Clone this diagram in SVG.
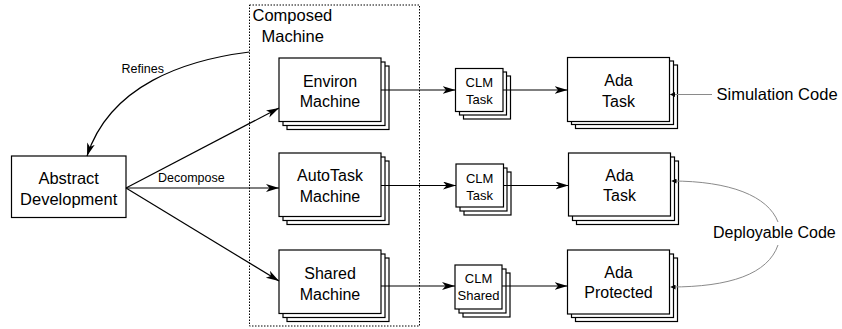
<svg xmlns="http://www.w3.org/2000/svg" width="842" height="329" viewBox="0 0 842 329">
  <style>
    text { font-family: "Liberation Sans", Arial, sans-serif; fill: #000; }
    .box { fill: #fff; stroke: #000; stroke-width: 1.2; }
    .big { font-size: 16px; text-anchor: middle; }
    .small { font-size: 13px; text-anchor: middle; }
    .lbl { font-size: 12.5px; }
    .conn { fill: none; stroke: #000; stroke-width: 1.2; }
    .note { fill: none; stroke: #8a8a8a; stroke-width: 1; }
    .frame { fill: none; stroke: #000; stroke-width: 1; stroke-dasharray: 1.5 1.5; }
  </style>
  <defs>
    <marker id="arr" markerUnits="userSpaceOnUse" markerWidth="14" markerHeight="10" refX="13" refY="4" orient="auto">
      <path d="M0,0 L13,4 L0,8 L3.5,4 z" fill="#000"/>
    </marker>
    <marker id="tiny" markerUnits="userSpaceOnUse" markerWidth="6" markerHeight="5" refX="5" refY="2.5" orient="auto">
      <path d="M0,0 L5,2.5 L0,5 z" fill="#000"/>
    </marker>
  </defs>

  <!-- composed machine frame -->
  <g id="composed">
    <rect class="frame" x="249.5" y="5" width="170" height="321"/>
    <text x="252.5" y="20.5" style="font-size:16.5px">Composed</text>
    <text x="261.5" y="41.5" style="font-size:16.5px">Machine</text>
  </g>

  <g id="abstract">
    <rect class="box" x="11.5" y="156" width="114.5" height="61.5"/>
    <text class="big" x="68.7" y="183.5" style="font-size:16.5px">Abstract</text>
    <text class="big" x="68.7" y="204.5" style="font-size:16.5px">Development</text>
  </g>

  <g id="environ">
    <rect class="box" x="287" y="66" width="102" height="63.5"/>
    <rect class="box" x="283" y="62" width="102" height="63.5"/>
    <rect class="box" x="279" y="58" width="102" height="63.5"/>
    <text class="big" x="330" y="87.3">Environ</text>
    <text class="big" x="330" y="107.3">Machine</text>
  </g>

  <g id="autotask">
    <rect class="box" x="287" y="161" width="102" height="63.5"/>
    <rect class="box" x="283" y="157" width="102" height="63.5"/>
    <rect class="box" x="279" y="153" width="102" height="63.5"/>
    <text class="big" x="330" y="180.7">AutoTask</text>
    <text class="big" x="330" y="201.7">Machine</text>
  </g>

  <g id="shared">
    <rect class="box" x="287" y="258" width="102" height="63.5"/>
    <rect class="box" x="283" y="254" width="102" height="63.5"/>
    <rect class="box" x="279" y="250" width="102" height="63.5"/>
    <text class="big" x="330" y="279.3">Shared</text>
    <text class="big" x="330" y="300">Machine</text>
  </g>

  <g id="clm-task-1">
    <rect class="box" x="463.5" y="76" width="47" height="43"/>
    <rect class="box" x="459.5" y="72" width="47" height="43"/>
    <rect class="box" x="455.5" y="68.5" width="47.5" height="43"/>
    <text class="small" x="479.3" y="87.3">CLM</text>
    <text class="small" x="479.3" y="104">Task</text>
  </g>

  <g id="clm-task-2">
    <rect class="box" x="464" y="172" width="47" height="43"/>
    <rect class="box" x="460" y="168" width="47" height="43"/>
    <rect class="box" x="456" y="164" width="47.5" height="43"/>
    <text class="small" x="479.7" y="183.3">CLM</text>
    <text class="small" x="479.7" y="199.5">Task</text>
  </g>

  <g id="clm-shared">
    <rect class="box" x="463" y="273" width="47" height="44"/>
    <rect class="box" x="459" y="269" width="47" height="44"/>
    <rect class="box" x="455" y="265" width="47" height="44"/>
    <text class="small" x="478.5" y="283.3">CLM</text>
    <text class="small" x="478.5" y="299.5">Shared</text>
  </g>

  <g id="ada-task-1">
    <rect class="box" x="575.5" y="65" width="102" height="63.5"/>
    <rect class="box" x="571.5" y="61" width="102" height="63.5"/>
    <rect class="box" x="567.5" y="57.5" width="102" height="64"/>
    <text class="big" x="618.5" y="86">Ada</text>
    <text class="big" x="618.5" y="106.7">Task</text>
  </g>

  <g id="ada-task-2">
    <rect class="box" x="576.5" y="161" width="102" height="63.5"/>
    <rect class="box" x="572.5" y="157" width="102" height="63.5"/>
    <rect class="box" x="568.5" y="153" width="102" height="63"/>
    <text class="big" x="619.5" y="180.7">Ada</text>
    <text class="big" x="619.5" y="201.3">Task</text>
  </g>

  <g id="ada-protected">
    <rect class="box" x="575.5" y="258" width="102" height="63.5"/>
    <rect class="box" x="571.5" y="254" width="102" height="63.5"/>
    <rect class="box" x="567.5" y="250" width="102" height="64"/>
    <text class="big" x="618.5" y="278.3">Ada</text>
    <text class="big" x="618.5" y="298">Protected</text>
  </g>

  <g id="simulation-code">
    <text x="716.5" y="100" style="font-size:16.5px">Simulation Code</text>
  </g>

  <g id="deployable-code">
    <text x="713" y="237.5" style="font-size:16px">Deployable Code</text>
  </g>

  <g id="connectors">
    <!-- refinement back to the abstract model -->
    <path class="conn" d="M249.5,52 C185,60 110,85 87,156" marker-end="url(#arr)"/>
    <text class="lbl" x="121.5" y="72.5">Refines</text>

    <!-- decomposition fan-out -->
    <line class="conn" x1="126" y1="188" x2="279" y2="108" marker-end="url(#arr)"/>
    <line class="conn" x1="126" y1="188" x2="279" y2="188" marker-end="url(#arr)"/>
    <line class="conn" x1="126" y1="188" x2="279" y2="281" marker-end="url(#arr)"/>
    <text class="lbl" x="158" y="181.5">Decompose</text>

    <!-- machine to CLM to Ada -->
    <line class="conn" x1="381" y1="90" x2="455.5" y2="90" marker-end="url(#arr)"/>
    <line class="conn" x1="503" y1="90" x2="567.5" y2="90" marker-end="url(#arr)"/>
    <line class="conn" x1="381" y1="185.5" x2="456" y2="185.5" marker-end="url(#arr)"/>
    <line class="conn" x1="503.5" y1="185.5" x2="568.5" y2="185.5" marker-end="url(#arr)"/>
    <line class="conn" x1="381" y1="286" x2="455" y2="286" marker-end="url(#arr)"/>
    <line class="conn" x1="502" y1="286" x2="567.5" y2="286" marker-end="url(#arr)"/>

    <!-- code annotations -->
    <line class="note" x1="712" y1="94.5" x2="670" y2="94.5" marker-end="url(#tiny)"/>
    <path class="note" d="M778,222 C768,196 730,181 671.5,181" marker-end="url(#tiny)"/>
    <path class="note" d="M778,245 C768,274 730,287 670.5,287" marker-end="url(#tiny)"/>
  </g>
</svg>
